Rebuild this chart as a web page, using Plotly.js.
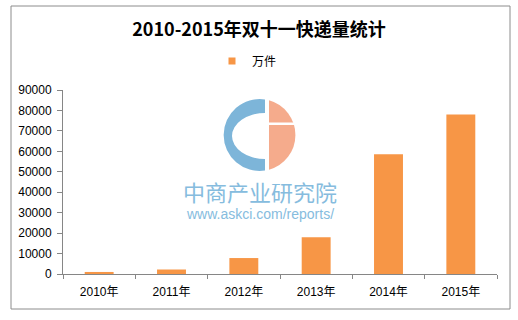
<!DOCTYPE html>
<html>
<head>
<meta charset="utf-8">
<script src="https://cdn.plot.ly/plotly-3.0.1.min.js"></script>
<style>html,body{margin:0;padding:0;background:#fff;}#chart{width:518px;height:320px;}</style>
</head>
<body>
<div id="chart"></div>
<script>
// Data
const years = ["2010年", "2011年", "2012年", "2013年", "2014年", "2015年"];
const parcels = [1000, 2200, 7800, 18000, 58600, 78000];
const seriesName = "万件";
const chartTitle = "2010-2015年双十一快递量统计";
const yTicks = [0, 10000, 20000, 30000, 40000, 50000, 60000, 70000, 80000, 90000];

const W = 518, H = 320, L = 63, R = 21, T = 90, B = 46;
const pw = W - L - R, ph = H - T - B;
const px = x => (x - L) / pw;
const py = y => (H - B - y) / ph;

const logoSvg = '<svg xmlns="http://www.w3.org/2000/svg" width="200" height="140" viewBox="0 0 200 140">' +
  '<path d="M115,9.4 A36,36 0 1 0 115,80.6 L115,69 A33,23 0 1 1 115,23 Z" fill="#7db5d9"/>' +
  '<path d="M119,10.3 A36,36 0 0 1 119,79.7 Z" fill="#f5ab8c"/>' +
  '<rect x="118" y="32.5" width="30" height="2.5" fill="#ffffff"/>' +
  '</svg>';
const logoUri = 'data:image/svg+xml;charset=utf-8,' + encodeURIComponent(logoSvg);

const font = "Liberation Sans, Arial, Noto Sans CJK SC, sans-serif";
const barColor = "#F79646";

const barTrace = {
  type: "bar",
  x: years,
  y: parcels,
  name: seriesName,
  marker: {color: barColor},
  showlegend: false,
  hoverinfo: "x+y"
};

// legend entry with a small square key, like the reference
const legendKey = {
  type: "scatter",
  mode: "markers",
  x: [null], y: [null],
  name: seriesName,
  marker: {symbol: "square", size: 7, color: barColor},
  showlegend: true,
  hoverinfo: "skip"
};

const layout = {
  width: W, height: H,
  margin: {l: L, r: R, t: T, b: B, pad: 0},
  paper_bgcolor: "#ffffff",
  plot_bgcolor: "rgba(0,0,0,0)",
  bargap: 0.6,
  font: {family: font, size: 12, color: "#000"},
  title: {
    text: "<b>" + chartTitle + "</b>",
    font: {family: "Noto Sans CJK SC, Liberation Sans, sans-serif", size: 18, color: "#000"},
    x: 0.5, xref: "container", xanchor: "center",
    y: 1 - 30 / H, yref: "container", yanchor: "middle"
  },
  showlegend: true,
  legend: {
    orientation: "h",
    x: px(247), xanchor: "center",
    y: py(61), yanchor: "middle",
    font: {family: "Noto Sans CJK SC, sans-serif", size: 12, color: "#000"},
    itemwidth: 30,
    bgcolor: "rgba(0,0,0,0)"
  },
  xaxis: {
    type: "category",
    showline: true, linecolor: "#868686", linewidth: 1,
    ticks: "outside", tickson: "boundaries", ticklen: 4, tickcolor: "#868686",
    ticklabelstandoff: 7,
    showgrid: false, zeroline: false,
    tickfont: {family: font, size: 12, color: "#000"}
  },
  yaxis: {
    range: [0, 90000],
    tickvals: yTicks,
    ticktext: yTicks.map(String),
    showline: true, linecolor: "#868686", linewidth: 1,
    ticks: "outside", ticklen: 5, tickcolor: "#868686",
    ticklabelstandoff: 3,
    showgrid: false, zeroline: false,
    tickfont: {family: font, size: 12, color: "#000"}
  },
  images: [{
    source: logoUri,
    xref: "paper", yref: "paper",
    x: px(150), y: py(90),
    sizex: 200 / pw, sizey: 140 / ph,
    xanchor: "left", yanchor: "top",
    sizing: "stretch", layer: "below", opacity: 1
  }],
  annotations: [
    {
      text: "中商产业研究院", xref: "paper", yref: "paper",
      x: px(260), y: py(191), xanchor: "center", yanchor: "middle",
      showarrow: false,
      font: {family: "Noto Sans CJK SC, sans-serif", size: 22, color: "#86bcde"}
    },
    {
      text: "www.askci.com/reports/", xref: "paper", yref: "paper",
      x: px(260), y: py(214), xanchor: "center", yanchor: "middle",
      showarrow: false,
      font: {family: "Liberation Sans, Arial, sans-serif", size: 14, color: "#86bcde"}
    }
  ],
  shapes: [{
    type: "rect", xref: "paper", yref: "paper",
    x0: px(11), x1: px(510), y0: py(309), y1: py(6),
    line: {color: "#8c8c8c", width: 1}, fillcolor: "rgba(0,0,0,0)", layer: "below"
  }]
};

Plotly.newPlot("chart", [barTrace, legendKey], layout, {displayModeBar: false, staticPlot: true});
</script>
</body>
</html>
